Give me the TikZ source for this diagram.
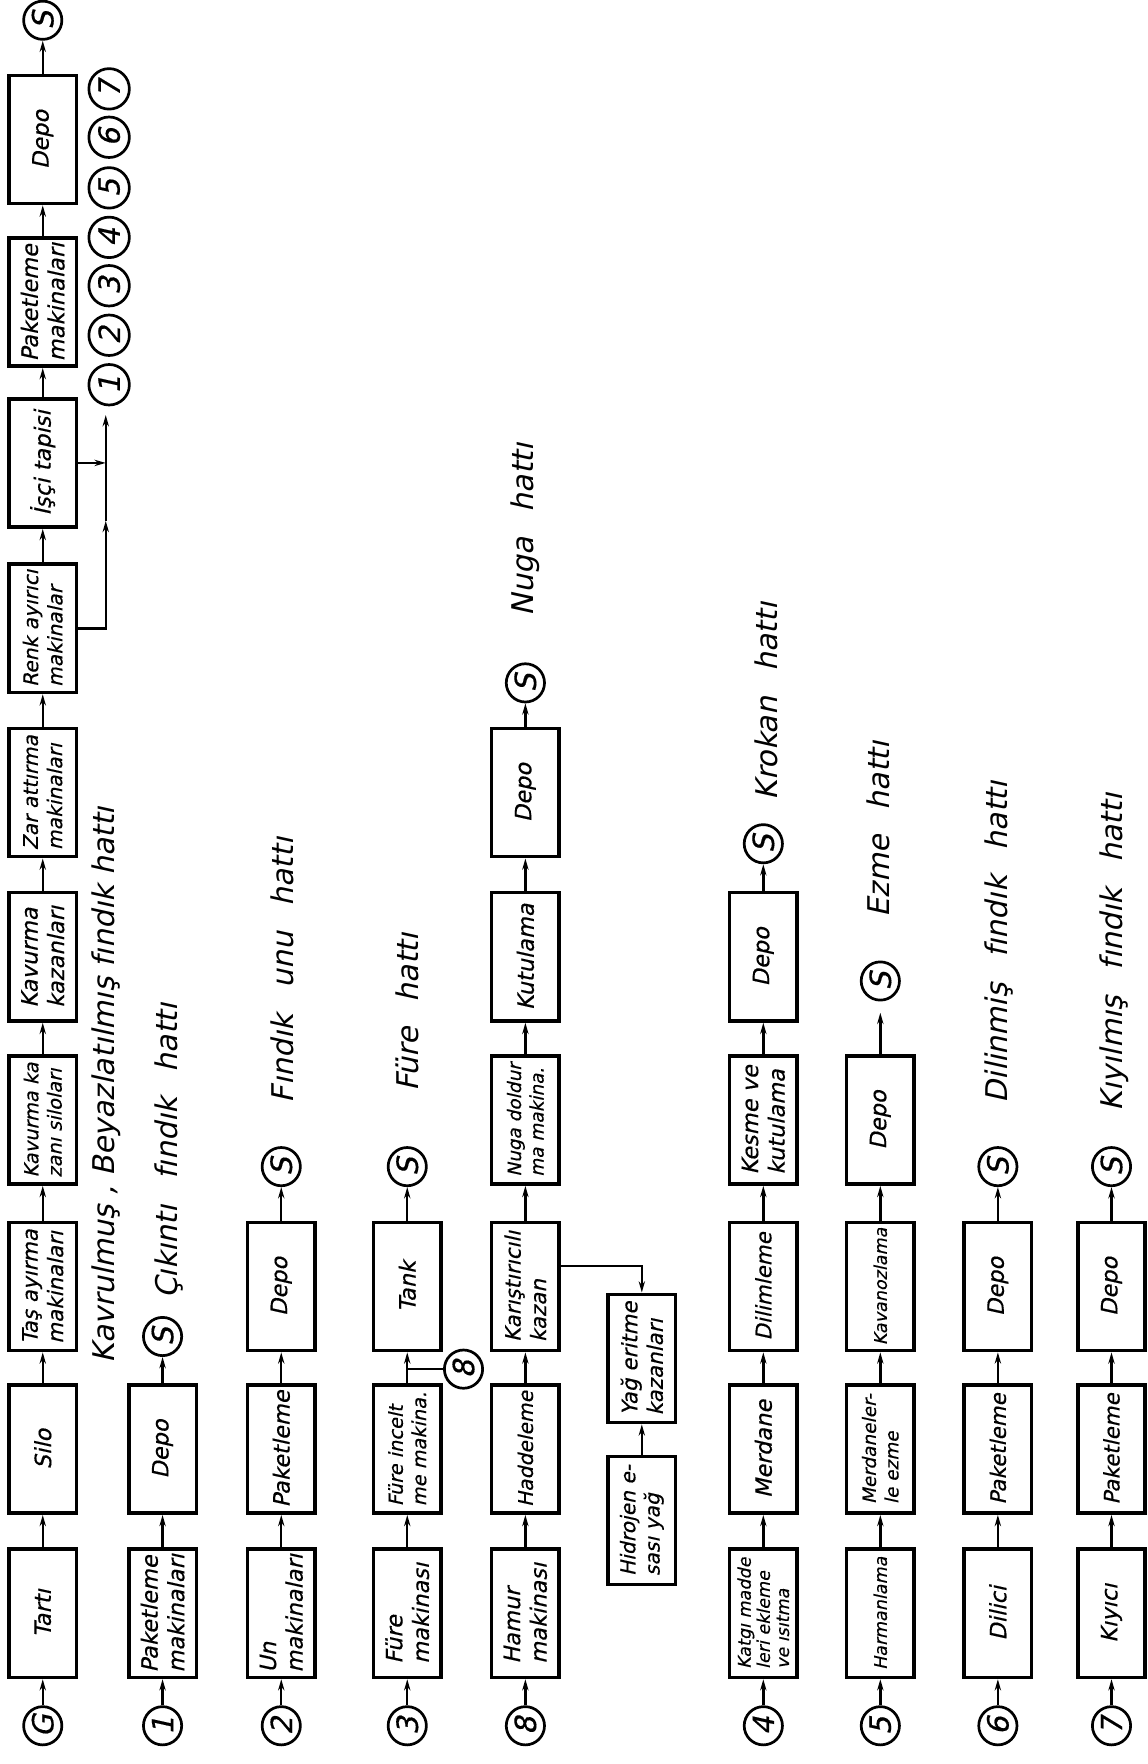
\documentclass[tikz,border=0pt]{standalone}
\usepackage{fontspec}
\newfontfamily\df{DejaVu Sans}[FakeSlant=0.22]
\newfontfamily\dfb{DejaVu Sans}[FakeSlant=0.22,FakeBold=0.4]
\usetikzlibrary{arrows.meta,calc}
\newcommand{\wsp}{\hspace{7pt}}
\tikzset{
  box/.style={draw, line width=1.6pt, rotate=90, minimum width=57pt, minimum height=30pt,
    inner sep=1pt, align=left, font=\dfb\fontsize{10}{11.8}\selectfont},
  fa/.style={font=\dfb\fontsize{9.5}{11.3}\selectfont},
  fe/.style={font=\dfb\fontsize{9}{10.8}\selectfont},
  fb/.style={font=\dfb\fontsize{8.6}{10.4}\selectfont},
  fc/.style={font=\dfb\fontsize{8.2}{10}\selectfont},
  fd/.style={font=\dfb\fontsize{7.8}{8.5}\selectfont},
  circ/.style={draw, circle, line width=1.2pt, rotate=90, minimum size=17pt, inner sep=0pt,
    font=\dfb\fontsize{13}{13}\selectfont},
  bigcirc/.style={circ, minimum size=18pt},
  arr/.style={line width=1.1pt, -{Stealth[length=5pt,width=2.8pt]}},
  lnk/.style={line width=1.1pt},
  lbl/.style={rotate=90, anchor=west, inner sep=0pt, font=\df\fontsize{13.3}{14}\selectfont},
}
\begin{document}
\begin{tikzpicture}[x=0.5pt,y=-0.5pt]
\useasboundingbox (0,0) rectangle (1020,1568);
\fill[white] (0,0) rectangle (1020,1568);

% ---------- Column 1 ----------
\node[circ] (G) at (38,1534) {G};
\node[box] (tarti) at (38,1434) {Tartı};
\node[box] (silo) at (38,1288) {Silo};
\node[box,fa] (tas) at (38,1143.5) {Taş ayırma\\makinaları};
\node[box,fb] (kks) at (38,995.5) {Kavurma ka\\zanı siloları};
\node[box] (kk) at (38,850.5) {Kavurma\\kazanları};
\node[box,fe] (zar) at (38,704.5) {Zar attırma\\makinaları};
\node[box,fe] (renk) at (38,558.5) {Renk ayırıcı\\makinalar};
\node[box] (isci) at (38,411.5) {İşçi tapisi};
\node[box] (pak1) at (38,268.5) {Paketleme\\makinaları};
\node[box] (depo1) at (38,124) {Depo};
\node[circ] (S1) at (38,18) {S};
\draw[arr] (G.east) -- (tarti.west);
\draw[arr] (tarti.east) -- (silo.west);
\draw[arr] (silo.east) -- (tas.west);
\draw[arr] (tas.east) -- (kks.west);
\draw[arr] (kks.east) -- (kk.west);
\draw[arr] (kk.east) -- (zar.west);
\draw[arr] (zar.east) -- (renk.west);
\draw[arr] (renk.east) -- (isci.west);
\draw[arr] (isci.east) -- (pak1.west);
\draw[arr] (pak1.east) -- (depo1.west);
\draw[arr] (depo1.east) -- (S1.west);

% branch to circles
\coordinate (bm) at (94,463);
\coordinate (bt) at (94,369);
\draw[arr] (renk.south) -| (bm);
\draw[arr] (bm) -- (bt);
\draw[arr] (isci.south) -- (isci.south -| bt);
\node[bigcirc] (n1) at (97,342) {1};
\node[bigcirc] (n2) at (97,298) {2};
\node[bigcirc] (n3) at (97,254) {3};
\node[bigcirc] (n4) at (97,211) {4};
\node[bigcirc] (n5) at (97,167) {5};
\node[bigcirc] (n6) at (97,122) {6};
\node[bigcirc] (n7) at (97,79) {7};

\node[lbl] (l1) at (94,1212) {Kavrulmuş , Beyazlatılmış fındık hattı};

% ---------- Column 2 ----------
\node[circ] (c1) at (144.5,1534) {1};
\node[box] (pak2) at (144.5,1434) {Paketleme\\makinaları};
\node[box] (depo2) at (144.5,1288) {Depo};
\node[circ] (S2) at (144.5,1188) {S};
\draw[arr] (c1.east) -- (pak2.west);
\draw[arr] (pak2.east) -- (depo2.west);
\draw[arr] (depo2.east) -- (S2.west);
\node[lbl] (l2) at (150,1155) {Çıkıntı\wsp{} fındık\wsp{} hattı};

% ---------- Column 3 ----------
\node[circ] (c2) at (250,1534) {2};
\node[box] (un) at (250,1434) {Un\\makinaları};
\node[box] (pak3) at (250,1288) {Paketleme};
\node[box] (depo3) at (250,1143.5) {Depo};
\node[circ] (S3) at (250,1037) {S};
\draw[arr] (c2.east) -- (un.west);
\draw[arr] (un.east) -- (pak3.west);
\draw[arr] (pak3.east) -- (depo3.west);
\draw[arr] (depo3.east) -- (S3.west);
\node[lbl] (l3) at (251,981) {Fındık\wsp{} unu\wsp{} hattı};

% ---------- Column 4 ----------
\node[circ] (c3) at (362,1534) {3};
\node[box] (fure) at (362,1434) {Füre\\makinası};
\node[box,fb] (furei) at (362,1288) {Füre incelt\\me makina.};
\node[box] (tank) at (362,1143.5) {Tank};
\node[circ] (S4) at (362,1037) {S};
\node[circ] (c8a) at (412,1217) {8};
\coordinate (j8) at (362,1217);
\draw[arr] (c3.east) -- (fure.west);
\draw[arr] (fure.east) -- (furei.west);
\draw[arr] (furei.east) -- (tank.west);
\draw[arr] (tank.east) -- (S4.west);
\draw[lnk] (j8) -- (c8a);
\node[lbl] (l4) at (362,971) {Füre\wsp{} hattı};

% ---------- Column 5 ----------
\node[circ] (c8b) at (467,1534) {8};
\node[box] (hamur) at (467,1434) {Hamur\\makinası};
\node[box,fe] (hadde) at (467,1288) {Haddeleme};
\node[box,fa] (karis) at (467,1143.5) {Karıştırıcılı\\kazan};
\node[box,fc] (nuga) at (467,995.5) {Nuga doldur\\ma makina.};
\node[box] (kutu) at (467,850.5) {Kutulama};
\node[box] (depo5) at (467,704.5) {Depo};
\node[circ] (S5) at (467,607) {S};
\draw[arr] (c8b.east) -- (hamur.west);
\draw[arr] (hamur.east) -- (hadde.west);
\draw[arr] (hadde.east) -- (karis.west);
\draw[arr] (karis.east) -- (nuga.west);
\draw[arr] (nuga.east) -- (kutu.west);
\draw[arr] (kutu.east) -- (depo5.west);
\draw[arr] (depo5.east) -- (S5.west);
\node[box,fa] (yag) at (570.5,1207.5) {Yağ eritme\\kazanları};
\node[box,fe] (hid) at (570.5,1351.5) {Hidrojen e-\\sası yağ};
\draw[arr] (hid.east) -- (yag.west);
\path (karis.south) ++(0,-18) coordinate (kr);
\draw[arr] (kr) -| (yag.east);
\node[lbl] (l5) at (467,548) {Nuga\wsp{} hattı};

% ---------- Column 6 ----------
\node[circ] (c4) at (678.5,1534) {4};
\node[box,fd] (katki) at (678.5,1434) {Katgı madde\\leri ekleme\\ve ısıtma};
\node[box] (merd) at (678.5,1288) {Merdane};
\node[box,fa] (dilim) at (678.5,1143.5) {Dilimleme};
\node[box] (kesme) at (678.5,995.5) {Kesme ve\\kutulama};
\node[box] (depo6) at (678.5,850.5) {Depo};
\node[circ] (S6) at (678.5,750) {S};
\draw[arr] (c4.east) -- (katki.west);
\draw[arr] (katki.east) -- (merd.west);
\draw[arr] (merd.east) -- (dilim.west);
\draw[arr] (dilim.east) -- (kesme.west);
\draw[arr] (kesme.east) -- (depo6.west);
\draw[arr] (depo6.east) -- (S6.west);
\node[lbl] (l6) at (681,712) {Krokan\wsp{} hattı};

% ---------- Column 7 ----------
\node[circ] (c5) at (782.5,1534) {5};
\node[box,fd] (harm) at (782.5,1434) {Harmanlama};
\node[box,fc] (merd2) at (782.5,1288) {Merdaneler-\\le ezme};
\node[box,fd] (kav) at (782.5,1143.5) {Kavanozlama};
\node[box] (depo7) at (782.5,995.5) {Depo};
\node[circ] (S7) at (782.5,872) {S};
\draw[arr] (c5.east) -- (harm.west);
\draw[arr] (harm.east) -- (merd2.west);
\draw[arr] (merd2.east) -- (kav.west);
\draw[arr] (kav.east) -- (depo7.west);
\draw[arr] (depo7.east) -- ([yshift=-5pt]S7.west);
\node[lbl] (l7) at (781,816) {Ezme\wsp{} hattı};

% ---------- Column 8 ----------
\node[circ] (c6) at (887,1534) {6};
\node[box] (dilici) at (887,1434) {Dilici};
\node[box,fa] (pak8) at (887,1288) {Paketleme};
\node[box] (depo8) at (887,1143.5) {Depo};
\node[circ] (S8) at (887,1037) {S};
\draw[arr] (c6.east) -- (dilici.west);
\draw[arr] (dilici.east) -- (pak8.west);
\draw[arr] (pak8.east) -- (depo8.west);
\draw[arr] (depo8.east) -- (S8.west);
\node[lbl] (l8) at (888,981) {Dilinmiş\wsp{} fındık\wsp{} hattı};

% ---------- Column 9 ----------
\node[circ] (c7) at (988,1534) {7};
\node[box] (kiyici) at (988,1434) {Kıyıcı};
\node[box,fa] (pak9) at (988,1288) {Paketleme};
\node[box] (depo9) at (988,1143.5) {Depo};
\node[circ] (S9) at (988,1037) {S};
\draw[arr] (c7.east) -- (kiyici.west);
\draw[arr] (kiyici.east) -- (pak9.west);
\draw[arr] (pak9.east) -- (depo9.west);
\draw[arr] (depo9.east) -- (S9.west);
\node[lbl] (l9) at (990,988) {Kıyılmış\wsp{} fındık\wsp{} hattı};
\end{tikzpicture}
\end{document}
